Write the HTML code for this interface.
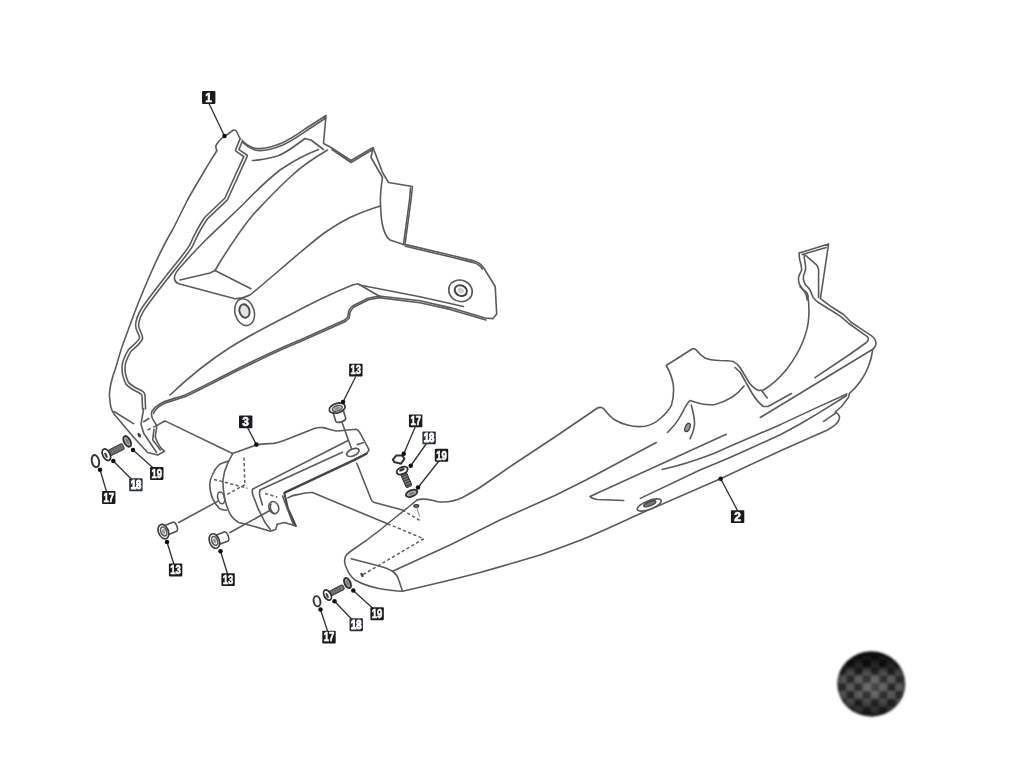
<!DOCTYPE html>
<html><head><meta charset="utf-8">
<style>
html,body{margin:0;padding:0;background:#fff;}
body{width:1024px;height:778px;overflow:hidden;font-family:"Liberation Sans",sans-serif;}
svg{display:block;}
.l{fill:none;stroke:#5a5a5a;stroke-width:1.6;stroke-linecap:round;stroke-linejoin:round;}
.t{fill:none;stroke:#444;stroke-width:2.1;stroke-linecap:round;stroke-linejoin:round;}
.d{fill:none;stroke:#5e5e5e;stroke-width:1.5;stroke-dasharray:3.2 2.4;stroke-linecap:butt;}
.ld{fill:none;stroke:#333;stroke-width:1.35;stroke-linecap:round;}
.dot{fill:#111;stroke:none;}
.lb{fill:#1b1b1f;stroke:none;}
.lb2{fill:#2b2f42;stroke:none;}
.lt{fill:#fff;stroke:#fff;stroke-width:0.55px;font-family:"Liberation Sans",sans-serif;font-weight:bold;font-size:12px;text-anchor:middle;}
.w{fill:#fff;stroke:#525252;stroke-width:1.6;stroke-linejoin:round;}
</style></head><body>
<svg width="1024" height="778" viewBox="0 0 1024 778">
<defs>
<filter id="soft" x="-5%" y="-5%" width="110%" height="110%"><feGaussianBlur stdDeviation="0.6"/></filter>
<filter id="noop" x="-2%" y="-2%" width="104%" height="104%"><feOffset dx="0" dy="0"/></filter>
<filter id="soft2" x="-10%" y="-10%" width="120%" height="120%"><feGaussianBlur stdDeviation="1.1"/></filter>
<pattern id="cf" width="16.4" height="15.6" patternUnits="userSpaceOnUse" x="838" y="652">
<rect width="16.4" height="15.6" fill="#5c5c5c"/>
<rect x="0" y="0" width="8.2" height="7.8" fill="#222"/>
<rect x="8.2" y="7.8" width="8.2" height="7.8" fill="#222"/>
</pattern>
<radialGradient id="cg" cx="0.52" cy="0.55" r="0.6">
<stop offset="0" stop-color="#fff" stop-opacity="0.22"/>
<stop offset="0.55" stop-color="#888" stop-opacity="0.05"/>
<stop offset="1" stop-color="#000" stop-opacity="0.55"/>
</radialGradient>
<linearGradient id="cg2" x1="0" y1="0" x2="0" y2="1">
<stop offset="0" stop-color="#000" stop-opacity="0.85"/>
<stop offset="0.22" stop-color="#000" stop-opacity="0.6"/>
<stop offset="0.38" stop-color="#000" stop-opacity="0.05"/>
<stop offset="0.7" stop-color="#000" stop-opacity="0.1"/>
<stop offset="0.85" stop-color="#111" stop-opacity="0.5"/>
<stop offset="1" stop-color="#000" stop-opacity="0.7"/>
</linearGradient>
</defs>
<rect width="1024" height="778" fill="#fff"/>
<g>
<!-- ===== PART 1 : upper fairing ===== -->
<g id="p1">
<path class="l" d="M224.5,136 L228,134 L233.5,130 L236,130.5 L240,138.5 C244,143 248,146 254,148 C262,150 272,147 282,143 C292,138.5 300,132.5 308,127 L326,115.5 L323.5,143.5 L331,147.5 L351,160.5 L373,147.5 L382.5,172.5 L388.5,182.5 L412.5,186.5 L411,200 L405,244.4 L450,255 L474,260.9 C479,262.3 481.8,264.8 483.8,268 L495.2,286.5 L496.7,314 L493,318.6 L485,318 L450,307.6 L420,300.8 L379,296 L368,298.3 L352.5,306 C350,308 349,310 348.6,311.5 L347.8,317 L344.7,320 L300,340 C280,348 255,360 230,372.5 C215,380 200,388 185,395 C175,398.5 168,400 162.5,402.5 C156,406 152.5,409 151.5,412.7 C151.3,415 152,417.5 152.7,419 C154,421.5 155.8,423.5 156.6,425.5 C157,429 155.3,433 155.3,437 C156.5,441 158.5,444.5 160.4,447.4 L164.5,451.3 L157.8,455 L147.6,452.5 L133.4,437 L114,414 C111,409.5 110,405 110,400 C109.4,397.5 109.3,395 109.6,392 C110,388 112,378 115,370 C119,355 124,340 130,325 C136,308 143,291 150,275 C157,259 164,244 172.5,230 C178,219 183,209 187.5,200 C193,190 199,180 205,170 C209,163 213,157 217,150.5 C215.5,148 215.5,146 216.5,144.5 C218,142 220,140 221.5,138.5 Z"/>
<!-- doubled (thick) portions of outline -->
<path class="l" d="M241,140.5 C245,145 249,148 255,150 C263,152 273,149 283,145 C293,140.5 301,134.5 309,129 L325,118.5"/>
<path class="l" d="M332,149.5 L351,162.5 L372,150"/>
<path class="l" d="M410.5,188 L409.5,200 L403.5,244"/>
<path class="l" d="M405.5,246.2 L450,256.8 L473.5,262.6 C478,264 480.6,266.2 482.3,269"/>
<path class="l" d="M486,320 L450,309.4 L420,302.8 L379,297.6 L368.5,299.8 L353.5,307.3 C351.5,309 350.4,311 350,312.5 L349.2,318 L345.5,321.5 L300.5,341.6 C280.5,349.6 255.5,361.6 230.6,374 C215.6,381.6 200.6,389.6 185.6,396.6 C175.5,400 168.5,401.6 163.2,404 C157.5,407 154.6,410 153.5,413.5"/>
<!-- ridge double line -->
<g transform="translate(1.1 0.6)" fill="none" stroke-linejoin="round">
<path d="M240.3,138.8 L236,149.6 L244.6,155.4 L230,187.5 L225,198.5 L205,217.5 C199,226 194,236 190,245 C186,252 175,265 165,277.5 C157,288 149,298 142.5,307.5 C139,313 136,319 136,325 C136,330 140,333 140,337.5 C138,343 132,346 128.5,350 C125,356 122,362 122.5,367.5 C122,373 124,378 126,382.5 C130,387 136,389.5 138.6,390.8 C141,392 142.2,393.2 142.4,394.7 L143,408.8" stroke="#5a5a5a" stroke-width="4.6"/>
<path d="M240.3,138.8 L236,149.6 L244.6,155.4 L230,187.5 L225,198.5 L205,217.5 C199,226 194,236 190,245 C186,252 175,265 165,277.5 C157,288 149,298 142.5,307.5 C139,313 136,319 136,325 C136,330 140,333 140,337.5 C138,343 132,346 128.5,350 C125,356 122,362 122.5,367.5 C122,373 124,378 126,382.5 C130,387 136,389.5 138.6,390.8 C141,392 142.2,393.2 142.4,394.7 L143,408.8" stroke="#fff" stroke-width="1.4"/>
</g>
<path class="l" d="M143.6,408.8 L141,424.3 L143.7,433.3 L156.6,452.5"/>
<!-- lines near top spike -->
<path class="l" d="M252.5,160.5 C262,160 270,158 277.5,156 C288,152 296,145 305,138.5 L311,140 L323.5,149.5"/>
<!-- scoop outer (alpha) -->
<path class="l" d="M318.5,149.5 C304,155 291,162.5 280,170 C266,181 254,193 242.5,205 C229,218 218,228 205.7,240 C198,248 190,256 185,262 L180,267.5 C176,272 174,276 174.5,279 C175,282 176.5,283 178.75,283.75 L235,298.75 C241,298.5 246,297 250,295 L265,282.5 C276,273 288,263 300,252.5 C308,246 316,239 325,232.5 C333,227 341,222 350,217.5 C360,213 370,209 380.5,206"/>
<!-- scoop inner (beta) -->
<path class="l" d="M327.5,150 C314,158 302,166 292.5,175 C279,187 267,200 255,212.5 C243,226 232,243 220,262 L215,270.5 L251,288.75"/>
<path class="l" d="M215,270.5 L210,273 L180,280"/>
<!-- inner line under notch -->
<path class="l" d="M373,148 L371,157.5 L382.5,177.5 C381,187 380,196 380.5,205 C381,213 381,219 382.5,225 C384,232 386,237 390,240 L405,245"/>
<!-- holes -->
<ellipse class="l" cx="244.6" cy="312.2" rx="9.6" ry="13.6" transform="rotate(-15 244.6 312.2)"/>
<ellipse cx="244.5" cy="311" rx="5" ry="6.8" transform="rotate(-15 244.5 311)" fill="#e4e4e4" stroke="#484848" stroke-width="1.9"/>
<ellipse class="l" cx="460.5" cy="290.8" rx="12" ry="10.6" transform="rotate(22 460.5 290.8)"/>
<ellipse class="l" cx="460.8" cy="290.6" rx="6.3" ry="5.2" transform="rotate(25 460.8 290.6)" style="stroke-width:2;stroke:#444"/>
<ellipse cx="460.8" cy="290.6" rx="3.4" ry="2.5" transform="rotate(25 460.8 290.6)" fill="#ccc"/>
<!-- lower body lines -->
<path class="l" d="M358,283.75 L352.5,285 C330,294 310,304 290,314.7 C269,325.5 249,335.5 230,347.5 C208,361.5 188,378 170,395"/>
<path class="l" d="M359.5,285 L420,296.7 L463.4,306.5"/>
<path class="l" d="M358,283.75 L379,296"/>
<!-- tip -->
<path class="l" d="M154,429.4 L152.7,439.7 L160.4,450"/>
<path class="l" d="M114,411.5 L133.5,423.6"/>
<path class="l" d="M164.3,421.2 L156.6,425.6"/>
<path class="d" d="M156.6,425.6 L147.6,430" style="stroke-dasharray:4 2.5"/>
<path class="l" d="M143.7,421.7 L148.8,418.5"/>
<ellipse cx="139.2" cy="435.2" rx="1.5" ry="2.4" fill="#333" transform="rotate(-25 139.2 435.2)"/>
</g>
<!-- ===== PART 3 : bracket ===== -->
<g id="p3">
<!-- thin line from part1 tip to bracket -->
<path class="l" d="M164.3,421.2 L166,421.4 L232.5,453.5"/>
<!-- top edge -->
<path class="l" d="M232.5,453.5 L256.25,445 C262,443.8 268,443.8 273.8,443.4 C279,442.5 283,441 287.9,439 L314.25,428.5 C317,427.6 320,427.4 323,427.6 C328,428.5 332,430.5 337.1,431 L356.4,429.3 C358,430 359,431.2 360,432.9 L369.1,449.8 L366.7,453.4 L355,459.2"/>
<!-- body left -->
<path class="l" d="M232.5,454 L228,462.7 C225,469 223.5,475 222.9,480.3 C222.8,486 223.5,492 224.6,497.9 C225.8,503.5 227.5,509 229.9,513.7 C232,517.5 235,520.5 238.7,522.5 L252.7,526 L270.3,531.3 L275.6,529.5 L277.3,524.25"/>
<path class="l" d="M228.5,461 C225,462 222,463 219.3,464.5 C216,467.5 214,471 212.3,475 C210.5,478.5 209.7,482 209.7,485.6 C209.8,490 210.8,494 212.3,497.9 C214,502 216.5,505.5 219.3,508.4 C221.5,509.8 224,510.2 226.4,510.2"/>
<ellipse class="l" cx="221.1" cy="497.9" rx="3.3" ry="6" transform="rotate(-15 221.1 497.9)"/>
<!-- dashed hidden lines -->
<path class="d" d="M244,457.5 L244.8,484.5"/>
<path class="d" d="M214,479.4 L247.5,488.2"/>
<path class="d" d="M244.8,484.7 L227.2,494.4"/>
<!-- arm lines -->
<path class="l" d="M252.7,489.1 L347.6,440.8"/>
<path class="l" d="M259.8,490 L342.4,452.2"/>
<path class="t" d="M284.7,492.6 L355,459.6 L366.5,453.8" style="stroke-width:2.3"/>
<!-- front plate -->
<path class="l" d="M252.7,489.1 C252,491 252.2,493 252.7,494.4 L258,508.4 L265,522.5 L270.3,529.5"/>
<path class="l" d="M259.8,490.4 C259.3,492.5 259.4,494.5 259.8,496.1 L262.4,504.9"/>
<path class="d" d="M265,493.5 L277.3,497"/>
<ellipse class="l" cx="273.8" cy="507.6" rx="4.8" ry="6.2" transform="rotate(-20 273.8 507.6)"/>
<path class="l" d="M271,504 C269.5,507 270.5,511 273.5,513"/>
<path class="t" d="M284.4,493.5 L287.9,508.4 L295.8,526"/>
<path class="l" d="M295.8,526 L284.4,522.5 L277.3,524.25"/>
<path class="l" d="M282.6,496.1 L293.2,524.25"/>
<!-- right lines toward part 2 -->
<path class="l" d="M287.9,497.9 C291,496 294,495 298.4,494.4 C303,493.2 308,492.4 312.5,492.6 L387.5,523.75"/>
<path class="l" d="M356.8,463.3 L371.4,500 L373.5,502.2 L402.5,510"/>
<!-- bolt 13 top guide line and hole -->
<path class="l" d="M342.1,422.5 L351.5,448.7"/>
<path class="l" d="M357.3,444.6 L363.2,442.8"/>
<ellipse class="l" cx="352.9" cy="452.4" rx="6.6" ry="3.4" transform="rotate(-24 352.9 452.4)" style="stroke-width:1.7"/>
<!-- guide lines to bolts -->
<path class="l" d="M178.75,522.5 L217.6,501.4"/>
<path class="l" d="M230,532.5 L270.3,510.2"/>
</g>

<!-- ===== fasteners ===== -->
<g id="fast">
<!-- bolts 13 (left two) -->
<g transform="translate(163.4 531.6) rotate(-23)">
<path class="w" d="M2,-4.9 L12.8,-4.9 C15.2,-3.2 15.2,3.2 12.8,4.9 L2,4.9 Z"/>
<ellipse class="w" cx="0" cy="0" rx="4.9" ry="7.5" style="stroke-width:1.7;stroke:#3c3c3c"/>
<ellipse class="l" cx="0.3" cy="0" rx="2.8" ry="4.6"/>
<ellipse cx="0.3" cy="0" rx="1.5" ry="2.6" fill="#999"/>
</g>
<g transform="translate(214.4 541) rotate(-21)">
<path class="w" d="M2,-4.9 L13,-4.9 C15.4,-3.2 15.4,3.2 13,4.9 L2,4.9 Z"/>
<ellipse class="w" cx="0" cy="0" rx="4.9" ry="7.5" style="stroke-width:1.7;stroke:#3c3c3c"/>
<ellipse class="l" cx="0.3" cy="0" rx="2.8" ry="4.6"/>
<ellipse cx="0.3" cy="0" rx="1.5" ry="2.6" fill="#999"/>
</g>
<!-- bolt 13 top -->
<g transform="translate(337.2 408.1) rotate(73)">
<path class="w" d="M2,-5.2 L12.6,-5.2 C15,-3.4 15,3.4 12.6,5.2 L2,5.2 Z"/>
<ellipse class="w" cx="0" cy="0" rx="4.7" ry="8.2" style="stroke-width:1.8;stroke:#3a3a3a"/>
<ellipse cx="0.2" cy="0" rx="2.6" ry="5.2" fill="#bbb" stroke="#444" stroke-width="1.2"/>
<ellipse cx="0.2" cy="0" rx="1.2" ry="2.8" fill="#888"/>
</g>

<!-- group A (left of part1 tip): 17,18,19 -->
<ellipse class="l" cx="95.4" cy="461.1" rx="3.6" ry="6.2" transform="rotate(-12 95.4 461.1)" style="stroke-width:1.9;stroke:#333"/>
<g transform="translate(106.4 454.7) rotate(-27)">
<rect x="3" y="-3" width="16" height="6" rx="1.5" fill="#7a7a7a" stroke="#3a3a3a" stroke-width="1.1"/>
<path d="M6,-3V3M8.5,-3V3M11,-3V3M13.5,-3V3M16,-3V3" stroke="#555" stroke-width="0.8"/>
<ellipse cx="0" cy="0" rx="3.6" ry="6.2" fill="#fff" stroke="#2c2c2c" stroke-width="1.7"/>
<ellipse cx="-0.6" cy="0.3" rx="1.3" ry="3" fill="#444"/>
</g>
<g transform="translate(127.2 441.4) rotate(-28)">
<ellipse cx="0" cy="0" rx="3.1" ry="5.8" fill="#aaa" stroke="#2e2e2e" stroke-width="1.9"/>
<ellipse cx="0.2" cy="0" rx="1" ry="3" fill="#777"/>
</g>

<!-- group B (center above nose): 17,18,19 -->
<path d="M392.8,459.6 L396.4,455.4 L402.4,455.6 L404.4,458.8 L401,463.8 L394.2,462 Z" fill="#fff" stroke="#2e2e2e" stroke-width="2" stroke-linejoin="round"/>
<g transform="translate(402.2 470.6) rotate(66)">
<rect x="2.5" y="-3" width="15" height="6" rx="1.5" fill="#7a7a7a" stroke="#3a3a3a" stroke-width="1.1"/>
<path d="M5.5,-3V3M8,-3V3M10.5,-3V3M13,-3V3M15.5,-3V3" stroke="#333" stroke-width="0.9"/>
<ellipse cx="0" cy="0" rx="3.4" ry="5.8" fill="#fff" stroke="#2c2c2c" stroke-width="1.9"/>
<ellipse cx="-0.9" cy="0" rx="1.3" ry="3" fill="#333"/>
</g>
<g transform="translate(411.6 493.3) rotate(-22)">
<ellipse cx="0" cy="0" rx="6" ry="3.1" fill="#aaa" stroke="#2e2e2e" stroke-width="1.9"/>
<ellipse cx="0" cy="0.2" rx="3" ry="1" fill="#777"/>
</g>

<!-- group C (below nose): 17,18,19 -->
<ellipse class="l" cx="317" cy="601.25" rx="3.3" ry="5.2" transform="rotate(-12 317 601.25)" style="stroke-width:1.9;stroke:#333"/>
<g transform="translate(327.5 595) rotate(-27)">
<rect x="3" y="-2.5" width="15" height="5" rx="1.5" fill="#7a7a7a" stroke="#3a3a3a" stroke-width="1.1"/>
<path d="M6,-2.5V2.5M8.5,-2.5V2.5M11,-2.5V2.5M13.5,-2.5V2.5" stroke="#555" stroke-width="0.8"/>
<ellipse cx="0" cy="0" rx="3.3" ry="5.6" fill="#fff" stroke="#2c2c2c" stroke-width="1.7"/>
<ellipse cx="-0.5" cy="0.3" rx="1.2" ry="2.7" fill="#444"/>
</g>
<g transform="translate(347.5 583) rotate(-25)">
<ellipse cx="0" cy="0" rx="2.9" ry="5.4" fill="#aaa" stroke="#2e2e2e" stroke-width="1.9"/>
<ellipse cx="0.2" cy="0" rx="1" ry="2.8" fill="#777"/>
</g>
</g>
<!-- ===== PART 2 : belly pan ===== -->
<g id="p2">
<!-- nose + bottom outline -->
<path class="l" d="M417,500 C405,510 392,520 380,530 C370,538 360,545 352.5,550 C348,553 345.5,555 345,558 C344,562 345,565 346.25,567.5 C348,572 351,577 355,580 C362,584 371,587 380,588.75 C388,590 395,591 402.5,591.25 C430,585 455,579 480,572.5 C500,567 520,561 540,555 C557,549 574,543 590,536.25 C607,529 624,521 640,513.75 C667,502 694,490 720.5,478.75 L782.2,450 L827.5,430 C832,427.5 836,425 837.6,422.2 C839,420 840,417.5 839.2,416 C838.5,414 837,412.8 835.3,412"/>
<!-- top outline -->
<path class="l" d="M417,500 C424,497.5 430,500 437,501.5 C446,503 455,501 462.5,497.5 C469,494 475,490.5 480,487.5 L512.5,465 L556,436.25 L597.5,408 C600,407 602,407.3 603.75,408.75 C607,413 610,417 615,420 C619,422.5 623,424 627.5,425 C633,426.5 639,427 645,426.25 C651,425 656,422.5 660,418.75 C665,414.5 669.5,410 671.5,405 C673.3,399 674,392 673.3,385 C672.3,378 669.5,371 666.25,365.5 L692.5,348.75 C694,348.4 695.3,349 696.25,350 C699,353.5 701.5,356 705,358 C709.5,360 714.5,360.3 720,360.5 C725,360.5 730,360.8 733.5,361.6 C737,363.5 739,366 740,367.5 L749.4,383 C752,386.5 755,389 758.75,390.5 L763.4,390 C772,385 780,377.5 786.9,369 C793,361 798.5,352 802.5,342.5 C805.5,335 807.5,328 808.3,322 C809.3,313 809.3,303 807.3,293.7"/>
<!-- second (inner) V line -->
<path class="l" d="M735,367.5 L740,372 L752.5,394 C756,399.5 759.5,403.5 763.4,406.5 L768,406.5 L791.5,393.5"/>
<path class="l" d="M761.9,391 L767.3,398"/>
<!-- tab -->
<path class="l" d="M799.3,252.9 L828.6,244 L820.4,298.6 L832.2,307.3 L843.9,314.7 L850.8,322 L862.5,329.8 L871.3,335.7 C873.5,337.3 875,339 875.4,340.8 C876,342.5 876,343.8 875.7,345 C875.2,346.8 874,348.2 872.75,349.3 L760.3,417.5"/>
<path class="l" d="M799.3,252.9 C799,255.5 799.3,258 799.9,260.5 C800.8,264 801.8,267 801.6,269.8 C801,272.5 799,274.5 798.7,276.9 C798.3,279.5 798.5,282 799.3,283.9 C800.5,286.5 802.5,289 804,291 C805.3,292.5 806,294 806.3,295.6 L807.3,300"/>
<path class="l" d="M802.2,254.5 L826.25,247.6"/>
<path class="l" d="M804,255.2 C804.3,260 805.8,264 805.7,268.7 C805.3,272 803.6,274.5 803.4,276.9 C803.2,278.8 803.4,280.3 804,281.6 C804.8,283.5 805.4,284.8 805.9,285.4 C807.5,286.6 808.8,288 809.8,289.8 C811.2,292 811.9,294.3 812.7,296.6 C814,298.6 815.6,300.4 817.6,302 L829.3,309.3 L841,316.6 L848.8,323.5 L860.5,331.8 L867.4,336.6 C868.3,337.5 868.6,338.5 868.4,339.6 C868,340.8 867.2,341.8 866.4,342.5 L848.8,355 L815,377.7"/>
<path class="l" d="M800,286.8 L806.8,292.7 L808.3,297"/>
<path class="l" d="M805.2,255.2 L816.3,264.6 C817.6,266.2 818.3,268 818.6,269.8 L818.6,297.6"/>
<!-- right end curve -->
<path class="l" d="M872.75,349.3 C872,356 870.3,362 868,367.5 C866,372.5 863.5,377 860.3,381.5 C857,386 853.5,390 849.4,393.3 L848.6,397.2 L841.5,406.5 L835.3,412"/>
<path class="l" d="M823.6,421.4 L836,412.8"/>
<!-- fin edge lines -->
<path class="l" d="M662.2,469.5 C680,465.5 697,460 713.75,453.5 L730,446.3 L780.8,424.4 L818.9,406.6 L846.8,393.9"/>
<path class="l" d="M640.3,498.4 L700,470 L730,457.4 L747.8,449.5 L780.8,434.5 L800,424 L818.9,412.9 L839.2,400.2 L846.5,395.5"/>
<!-- body long lines -->
<path class="l" d="M392.5,571.25 L450,545 L500,520 L556,495 L586,480 L656.25,442.5"/>
<path class="l" d="M623.75,500.5 L597.5,499.5 C594,499 591,498 590,496.5 L726.25,434.25"/>
<!-- inner curves near middle hump -->
<path class="l" d="M744,386 C738,394 728,401 715,404.5 C706,405.5 698,403.5 690,400.5 C686,404 684,410 681,415 C677,423 672,428 667.5,432.5"/>
<path class="l" d="M691.25,405 C693,412 695,418 694.5,425 C694,430 692,435 690,438.75"/>
<ellipse cx="687.5" cy="427.5" rx="2.3" ry="4.4" fill="#999" stroke="#3a3a3a" stroke-width="1.2" transform="rotate(22 687.5 427.5)"/>
<!-- slot -->
<ellipse class="l" cx="649.25" cy="505" rx="12.8" ry="4.3" transform="rotate(-21 649.25 505)"/>
<ellipse cx="649.8" cy="503.8" rx="6.5" ry="2.1" fill="#777" stroke="#3a3a3a" stroke-width="1.2" transform="rotate(-21 649.8 503.8)"/>
<!-- nose face -->
<path class="l" d="M351.25,558.75 L380,566.25 C386,568 390,569.5 392.5,571.25 C396,574 398,577 398.75,580 L402.5,591.25"/>
<!-- dashed -->
<path class="d" d="M402.5,510 L421.5,521.5"/>
<path class="d" d="M387.5,523.75 L423.75,538.75"/>
<path class="d" d="M423.75,538.75 L362.5,575"/>
<ellipse cx="362" cy="575" rx="1.4" ry="2.4" fill="#444" transform="rotate(-25 362 575)"/>
<!-- solid guide lines from bracket / part 1 -->
<!-- small screw above nose -->
<ellipse cx="416.3" cy="506" rx="2.5" ry="1.4" fill="#777" stroke="#333" stroke-width="1.1"/>
<path class="l" d="M416.8,507.5 L419.5,516.3" style="stroke-width:0.9;stroke:#777"/>
</g>
</g>
<!-- ===== leaders + labels ===== -->
<g id="lab" filter="url(#noop)">
<path class="ld" d="M208.75,103 L224.5,136"/><circle class="dot" cx="224.5" cy="136" r="2.25"/>
<path class="ld" d="M737.5,510.5 L720.7,478.7"/><circle class="dot" cx="720.7" cy="478.7" r="2.3"/>
<path class="ld" d="M247.5,427.5 L256.4,444.6"/><circle class="dot" cx="256.4" cy="444.6" r="2.3"/>
<path class="ld" d="M355.5,377 L343,402"/><circle class="dot" cx="343" cy="402" r="2.25"/>
<path class="ld" d="M173.75,563.75 L167,542"/><circle class="dot" cx="167" cy="542" r="2.25"/>
<path class="ld" d="M227.5,573.75 L220.5,551.25"/><circle class="dot" cx="220.5" cy="551.25" r="2.25"/>
<!-- group A -->
<path class="ld" d="M106.4,491.1 L100,469.7"/><circle class="dot" cx="100" cy="469.7" r="2.25"/>
<path class="ld" d="M131.3,479 L113.3,461"/><circle class="dot" cx="113.3" cy="461" r="2.25"/>
<path class="ld" d="M153.25,468 L133,450"/><circle class="dot" cx="133" cy="450" r="2.25"/>
<!-- group B -->
<path class="ld" d="M415,427.5 L403.75,453.75"/><circle class="dot" cx="403.75" cy="453.75" r="2.25"/>
<path class="ld" d="M426.25,443.75 L410.75,465.75"/><circle class="dot" cx="410.75" cy="465.75" r="2.25"/>
<path class="ld" d="M438.75,461.25 L418,487.5"/><circle class="dot" cx="418" cy="487.5" r="2.25"/>
<!-- group C -->
<path class="ld" d="M327.5,631 L320.5,609.5"/><circle class="dot" cx="320.5" cy="609.5" r="2.25"/>
<path class="ld" d="M352,619.5 L334.5,601.25"/><circle class="dot" cx="334.5" cy="601.25" r="2.25"/>
<path class="ld" d="M373,608.5 L353.25,590.5"/><circle class="dot" cx="353.25" cy="590.5" r="2.25"/>

<g>
<rect class="lb" x="202.00" y="91.10" width="13.4" height="12.8" rx="0.8"/>
<text class="lt" x="208.70" y="101.75">1</text>
<rect class="lb" x="730.90" y="510.30" width="13.4" height="12.8" rx="0.8"/>
<text class="lt" x="737.60" y="520.95">2</text>
<rect class="lb" x="239.00" y="415.50" width="13.4" height="12.8" rx="0.8"/>
<text class="lt" x="245.70" y="426.15">3</text>
<rect class="lb" x="349.15" y="363.75" width="13.4" height="12.8" rx="0.8"/>
<text class="lt" transform="translate(355.85 374.40) scale(0.79 1)" x="0" y="0">13</text>
<rect class="lb" x="168.90" y="563.60" width="13.4" height="12.8" rx="0.8"/>
<text class="lt" transform="translate(175.60 574.25) scale(0.79 1)" x="0" y="0">13</text>
<rect class="lb" x="221.40" y="573.20" width="13.4" height="12.8" rx="0.8"/>
<text class="lt" transform="translate(228.10 583.85) scale(0.79 1)" x="0" y="0">13</text>
<rect class="lb" x="102.05" y="491.10" width="13.4" height="12.8" rx="0.8"/>
<text class="lt" transform="translate(108.75 501.75) scale(0.79 1)" x="0" y="0">17</text>
<rect class="lb2" x="129.20" y="478.35" width="13.4" height="12.8" rx="0.8"/>
<text class="lt" transform="translate(135.90 489.00) scale(0.79 1)" x="0" y="0" style="stroke-width:1.1px">18</text>
<rect class="lb" x="150.05" y="467.10" width="13.4" height="12.8" rx="0.8"/>
<text class="lt" transform="translate(156.75 477.75) scale(0.79 1)" x="0" y="0">19</text>
<rect class="lb" x="408.95" y="414.55" width="13.4" height="12.8" rx="0.8"/>
<text class="lt" transform="translate(415.65 425.20) scale(0.79 1)" x="0" y="0">17</text>
<rect class="lb2" x="422.40" y="431.50" width="13.4" height="12.8" rx="0.8"/>
<text class="lt" transform="translate(429.10 442.15) scale(0.79 1)" x="0" y="0" style="stroke-width:1.1px">18</text>
<rect class="lb" x="434.80" y="448.85" width="13.4" height="12.8" rx="0.8"/>
<text class="lt" transform="translate(441.50 459.50) scale(0.79 1)" x="0" y="0">19</text>
<rect class="lb" x="322.30" y="630.70" width="13.4" height="12.8" rx="0.8"/>
<text class="lt" transform="translate(329.00 641.35) scale(0.79 1)" x="0" y="0">17</text>
<rect class="lb2" x="349.55" y="618.35" width="13.4" height="12.8" rx="0.8"/>
<text class="lt" transform="translate(356.25 629.00) scale(0.79 1)" x="0" y="0" style="stroke-width:1.1px">18</text>
<rect class="lb" x="370.40" y="607.35" width="13.4" height="12.8" rx="0.8"/>
<text class="lt" transform="translate(377.10 618.00) scale(0.79 1)" x="0" y="0">19</text>
</g>
</g>

<!-- ===== carbon swatch ===== -->
<g filter="url(#soft2)">
<ellipse cx="871.3" cy="684" rx="34" ry="32.6" fill="url(#cf)"/>
<ellipse cx="871.3" cy="684" rx="34" ry="32.6" fill="url(#cg)"/>
<ellipse cx="871.3" cy="684" rx="34" ry="32.6" fill="url(#cg2)"/>
</g>
</svg>
</body></html>
